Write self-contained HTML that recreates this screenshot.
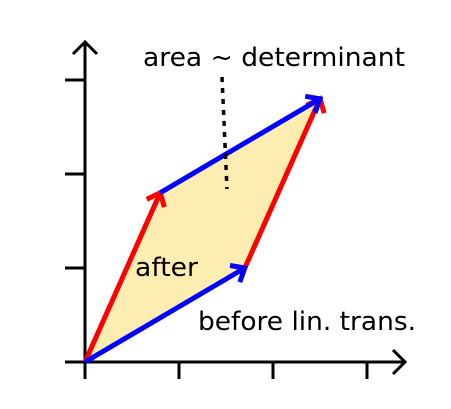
<!DOCTYPE html>
<html><head><meta charset="utf-8"><style>
html,body{margin:0;padding:0;background:#fff;width:451px;height:409px;overflow:hidden}
text{font-family:"DejaVu Sans","Liberation Sans",sans-serif;fill:#000}
</style></head><body>
<svg id="c" width="451" height="409" viewBox="0 0 451 409"></svg>
<script>
const xTicks=[1,2,3];
const yTicks=[1,2,3];
const vecA=[1.7,1.0]; // blue (before)
const vecB=[0.8,1.8]; // red (after)
const ox=85, oy=362, u=94;
const X=v=>ox+v*u, Y=v=>oy-v*u;
const NS='http://www.w3.org/2000/svg', svg=document.getElementById('c');
function mk(t,a){const e=document.createElementNS(NS,t);for(const k in a)e.setAttribute(k,a[k]);svg.appendChild(e);return e;}
const S=[vecA[0]+vecB[0],vecA[1]+vecB[1]];
let p=mk('polygon',{points:`${X(0)},${Y(0)} ${X(vecA[0])},${Y(vecA[1])} ${X(S[0])},${Y(S[1])} ${X(vecB[0])},${Y(vecB[1])}`,fill:'#fdedb0'});


let ax=mk('path',{d:`M${ox},${oy} H405 M393,350 L405,362 L393,374 M${ox},${oy} V42 M73,54 L85,42 L97,54`,stroke:'#000','stroke-width':3,fill:'none'});


xTicks.forEach(t=>{let l=mk('line',{x1:X(t),x2:X(t),y1:oy,y2:oy+17,stroke:'#000','stroke-width':3});

});
yTicks.forEach(t=>{let l=mk('line',{x1:ox-20,x2:ox,y1:Y(t),y2:Y(t),stroke:'#000','stroke-width':3});

});
let l0=mk('line',{x1:ox,x2:ox,y1:oy,y2:oy+17,stroke:'#000','stroke-width':3});


let l1=mk('line',{x1:ox-20,x2:ox,y1:oy,y2:oy,stroke:'#000','stroke-width':3});


function arrow(x0,y0,x1,y1,col,name){
  const a=Math.atan2(y1-y0,x1-x0),h=15,s=0.7;
  const d=`M${x0},${y0} L${x1},${y1} M${x1-h*Math.cos(a-s)},${y1-h*Math.sin(a-s)} L${x1},${y1} L${x1-h*Math.cos(a+s)},${y1-h*Math.sin(a+s)}`;
  let e=mk('path',{d,stroke:col,'stroke-width':5,fill:'none','stroke-linecap':'butt'});
  
  
}
arrow(X(0),Y(0),X(vecB[0]),Y(vecB[1]),'#ff0000','red-vector');
arrow(X(vecA[0]),Y(vecA[1]),X(S[0]),Y(S[1]),'#ff0000','red-vector-shifted');
arrow(X(0),Y(0),X(vecA[0]),Y(vecA[1]),'#0000ff','blue-vector');
arrow(X(vecB[0]),Y(vecB[1]),X(S[0]),Y(S[1]),'#0000ff','blue-vector-shifted');
let dl=mk('line',{x1:222,y1:77,x2:227,y2:189,stroke:'#000','stroke-width':3.5,'stroke-dasharray':'5,6'});


function txt(x,y,s,w,name){let t=mk('text',{x,y,'font-size':26,textLength:w,lengthAdjust:'spacingAndGlyphs'});t.textContent=s;

}
txt(143,66,'area ~ determinant',262,'area-label');
txt(135,276,'after',63,'after-label');
txt(198,330,'before lin. trans.',218,'before-label');
</script>
</body></html>
